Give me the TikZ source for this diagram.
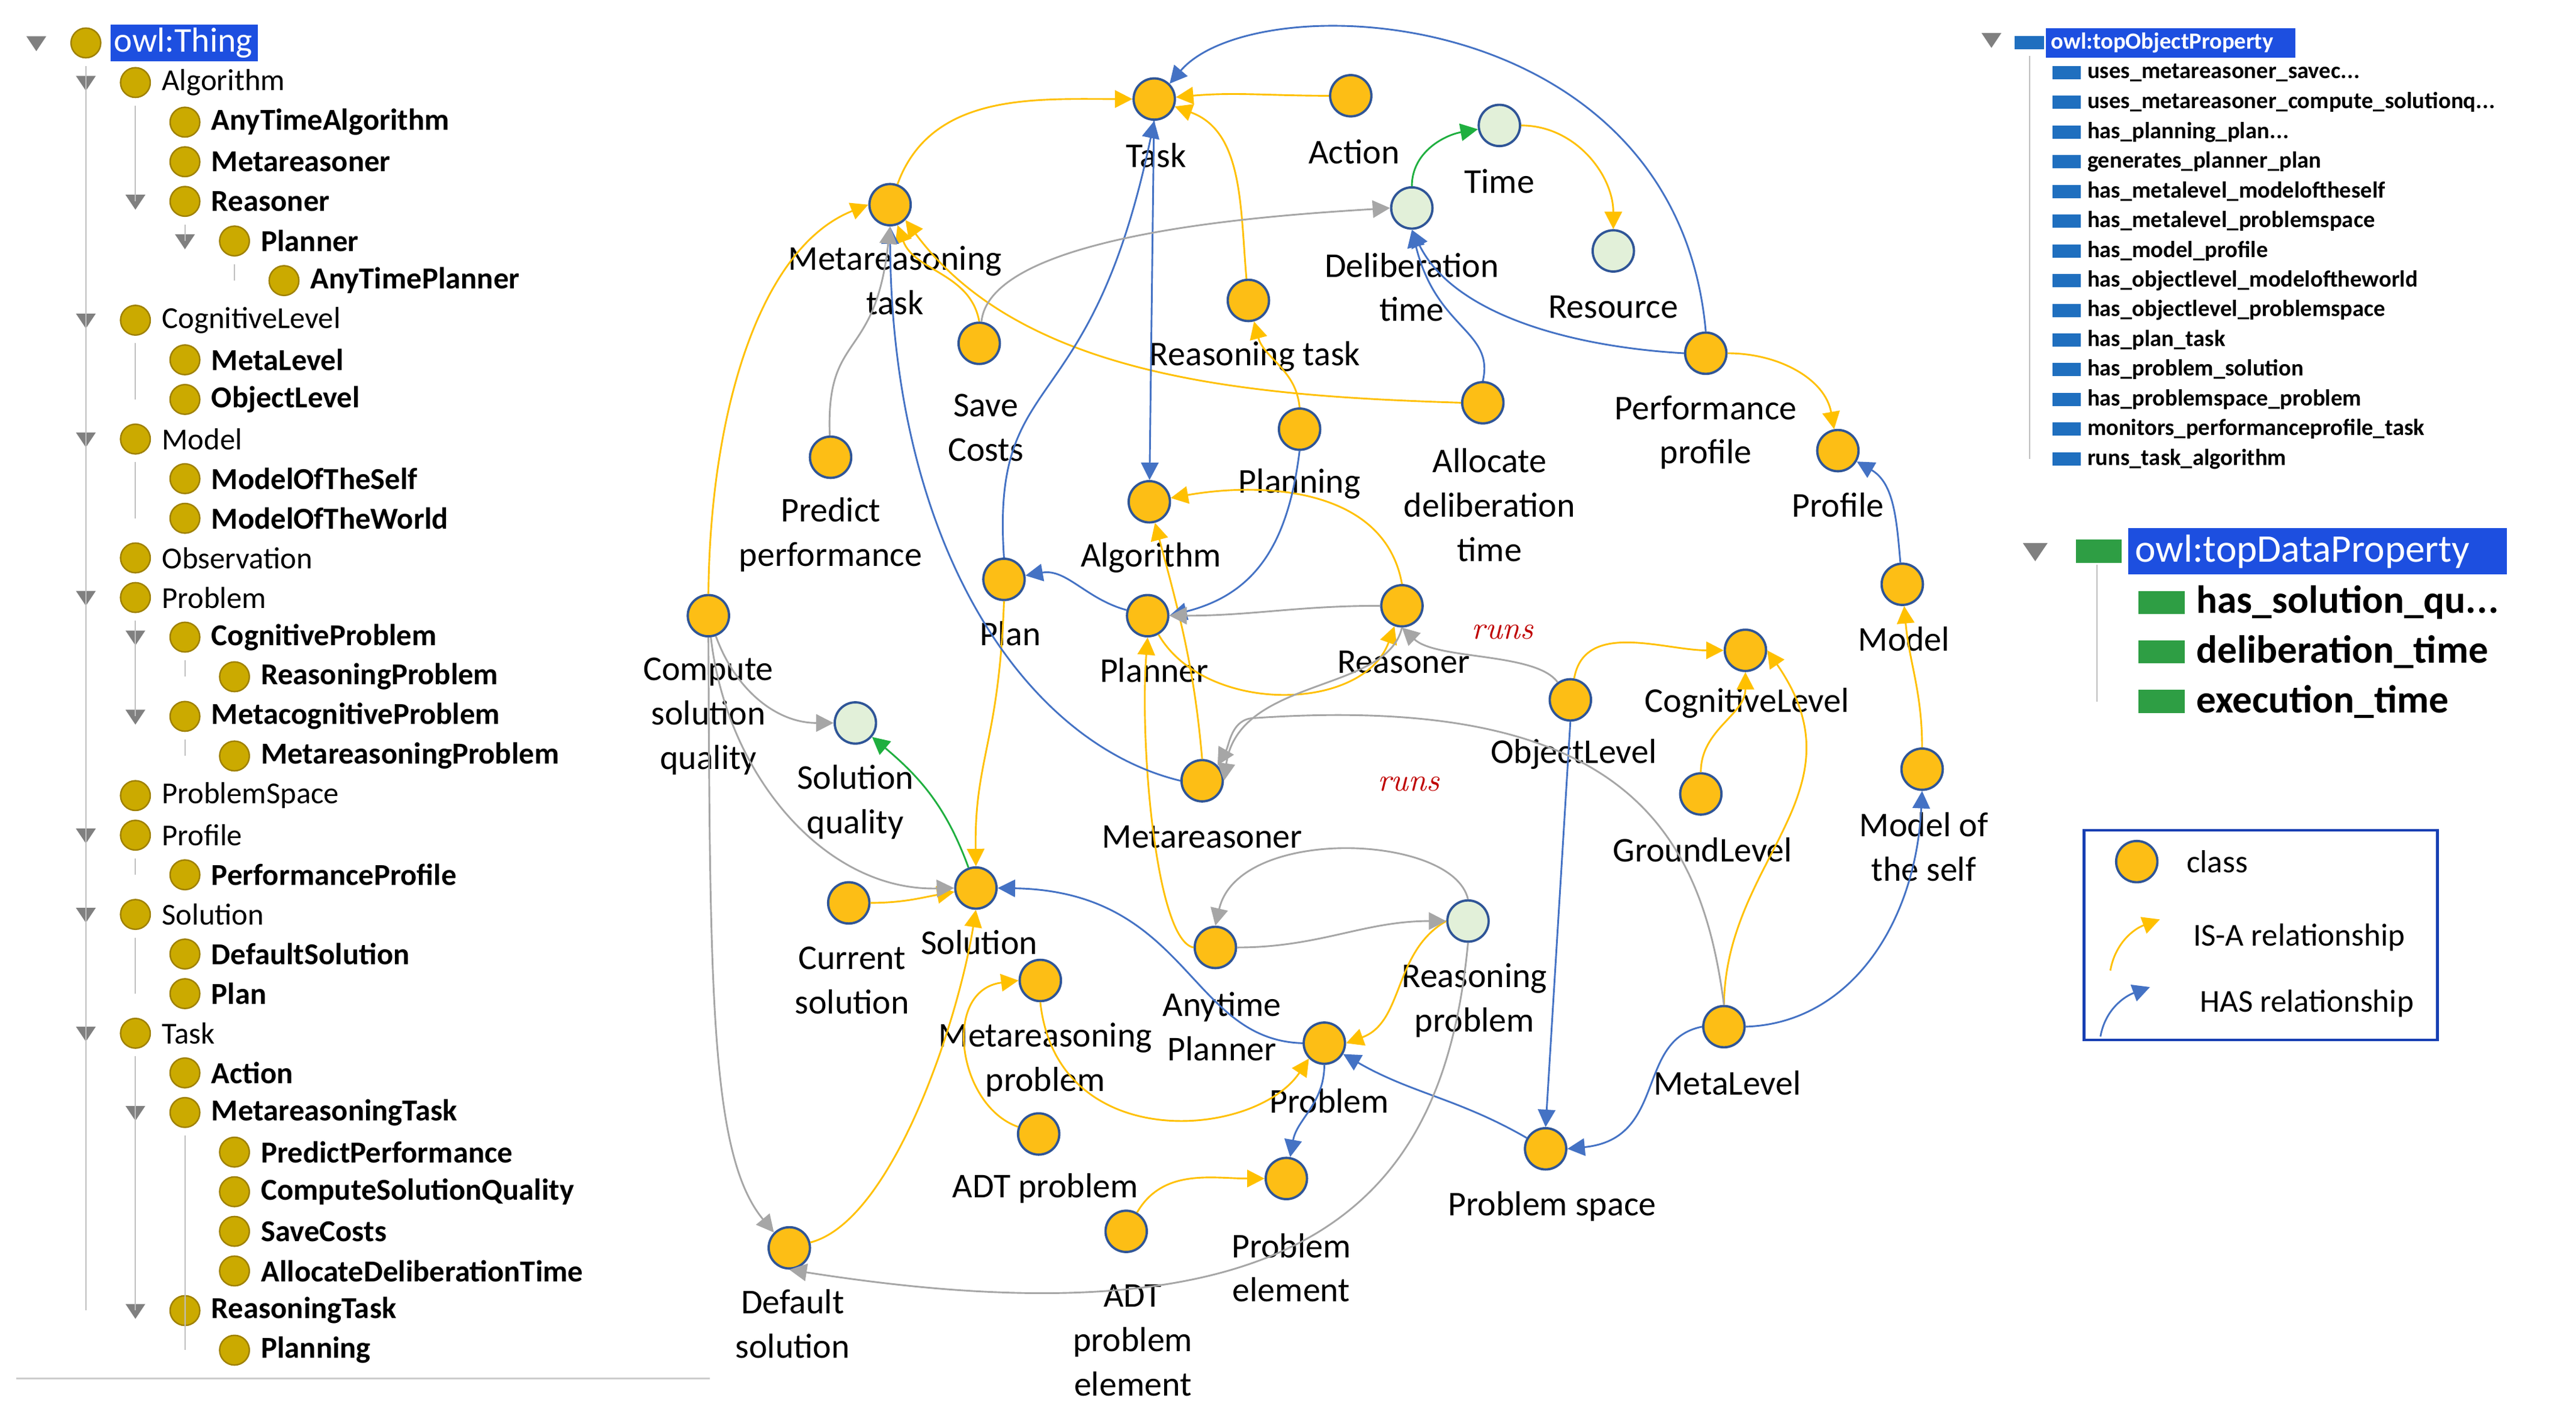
\documentclass[tikz,border=0pt]{standalone}
\usepackage{fontspec}
\setmainfont{Carlito}
\usetikzlibrary{arrows.meta}
\definecolor{cy}{HTML}{FDBE15}
\definecolor{cb}{HTML}{2F5597}
\definecolor{lb}{HTML}{4472C4}
\definecolor{lg}{HTML}{E2F0D9}
\definecolor{ay}{HTML}{FFC000}
\definecolor{ag}{HTML}{A6A6A6}
\definecolor{agr}{HTML}{1FAF3F}
\definecolor{hl}{HTML}{1D4FE0}
\definecolor{tc}{HTML}{C5A000}
\definecolor{pb}{HTML}{1F6FBF}
\definecolor{pg}{HTML}{2E9E44}
\newcommand{\dts}{.\kern0.02em.\kern0.02em.}
\begin{document}
\begin{tikzpicture}[x=0.02cm,y=-0.02cm,
 cls/.style={circle,draw=cb,line width=0.8pt,fill=cy,minimum size=0.5cm,inner sep=0},
 dat/.style={circle,draw=cb,line width=0.8pt,fill=lg,minimum size=0.5cm,inner sep=0},
 lab/.style={align=center,font=\fontsize{12}{15.3}\selectfont,inner sep=0},
 isa/.style={draw=ay,line width=0.6pt,-{Triangle[length=6pt,width=6pt]}},
 has/.style={draw=lb,line width=0.6pt,-{Triangle[length=6pt,width=6pt]}},
 gry/.style={draw=ag,line width=0.6pt,-{Triangle[length=6pt,width=6pt]}},
 grn/.style={draw=agr,line width=0.6pt,-{Triangle[length=6pt,width=6pt]}},
 tc/.style={circle,draw=tc!80!black,line width=0.5pt,fill=tc!90!yellow,minimum size=0.36cm,inner sep=0},
 tt/.style={anchor=west,font=\fontsize{10.5}{12}\selectfont,inner sep=1pt},
 runs/.style={font=\fontsize{11}{12}\itshape\rmfamily,text=red!75!black}
]
\useasboundingbox (0,0) rectangle (1560,850.6);
\newfontfamily\lm{Latin Modern Roman}
% ---------- tree ----------
\newcommand{\trow}[4]{% index, level, text, bold(1/0)
 \pgfmathsetmacro{\ty}{26+24*#1}\pgfmathsetmacro{\tx}{52+30*#2}
 \node[tc] (t#1) at (\tx,\ty) {};
 \ifnum#4=1 \node[tt] (tl#1) at (\tx+14,\ty) {\textbf{#3}};\else\node[tt] (tl#1) at (\tx+14,\ty) {#3};\fi}
\newcommand{\ttri}[1]{\pgfmathsetmacro{\ty}{26+24*#1}\pgfmathsetmacro{\tx}{52+30*\tlev-30}
 \fill[gray] (\tx-6,\ty-4) -- (\tx+6,\ty-4) -- (\tx,\ty+5) -- cycle;}
\fill[hl] (67,15) rectangle (156,37);
\node[tc] (t0) at (52,26) {};
\node[tt,text=white,font=\fontsize{12}{12}\selectfont] (tl0) at (67,26) {owl:Thing};
\foreach \i/\l/\t/\b in {1/1/Algorithm/0,2/2/AnyTimeAlgorithm/1,3/2/Metareasoner/1,4/2/Reasoner/1,5/3/Planner/1,6/4/AnyTimePlanner/1,7/1/CognitiveLevel/0,8/2/MetaLevel/1,9/2/ObjectLevel/1,10/1/Model/0,11/2/ModelOfTheSelf/1,12/2/ModelOfTheWorld/1,13/1/Observation/0,14/1/Problem/0,15/2/CognitiveProblem/1,16/3/ReasoningProblem/1,17/2/MetacognitiveProblem/1,18/3/MetareasoningProblem/1,19/1/ProblemSpace/0,20/1/Profile/0,21/2/PerformanceProfile/1,22/1/Solution/0,23/2/DefaultSolution/1,24/2/Plan/1,25/1/Task/0,26/2/Action/1,27/2/MetareasoningTask/1,28/3/PredictPerformance/1,29/3/ComputeSolutionQuality/1,30/3/SaveCosts/1,31/3/AllocateDeliberationTime/1,32/2/ReasoningTask/1,33/3/Planning/1}{\trow{\i}{\l}{\t}{\b}}
\foreach \i/\l in {0/0,1/1,4/2,5/3,7/1,10/1,14/1,15/2,17/2,20/1,22/1,25/1,27/2,32/2}{\def\tlev{\l}\ttri{\i}}
\draw[gray!50,line width=0.5pt] (52,40)--(52,794) (82,64)--(82,122) (112,136)--(112,146) (142,160)--(142,170)
 (82,208)--(82,242) (82,280)--(82,314) (82,376)--(82,434) (112,400)--(112,410) (112,448)--(112,458)
 (82,520)--(82,530) (82,568)--(82,602) (82,640)--(82,794) (112,688)--(112,818);
\draw[gray!40,line width=0.6pt] (10,835)--(430,835);
% ---------- right panel ----------
\fill[gray] (1200,20) -- (1212,20) -- (1206,29) -- cycle;
\fill[pb] (1220,22) rectangle (1238,30);
\fill[hl] (1239,17) rectangle (1390,35);
\node[anchor=west,text=white,font=\fontsize{8}{9}\selectfont\bfseries,inner sep=1pt] (otp) at (1240,26) {owl:topObjectProperty};
\foreach \i/\t in {0/uses\_metareasoner\_savec\dts,1/uses\_metareasoner\_compute\_solutionq\dts,2/has\_planning\_plan\dts,3/generates\_planner\_plan,4/has\_metalevel\_modeloftheself,5/has\_metalevel\_problemspace,6/has\_model\_profile,7/has\_objectlevel\_modeloftheworld,8/has\_objectlevel\_problemspace,9/has\_plan\_task,10/has\_problem\_solution,11/has\_problemspace\_problem,12/monitors\_performanceprofile\_task,13/runs\_task\_algorithm}{
 \fill[pb] (1243,{40+18*\i}) rectangle (1260,{48+18*\i});
 \node[anchor=west,font=\fontsize{8}{9}\selectfont\bfseries,inner sep=1pt] (op\i) at (1262,{44+18*\i}) {\t};}
\draw[gray!50,line width=0.4pt] (1229,34)--(1229,278);
\fill[gray] (1225,329) -- (1240,329) -- (1232.5,340) -- cycle;
\fill[pg] (1257,327) rectangle (1285,341);
\fill[hl] (1289,320) rectangle (1518,348);
\node[anchor=west,text=white,font=\fontsize{13.5}{14}\selectfont,inner sep=1pt] (tdp) at (1291,334) {owl:topDataProperty};
\foreach \i/\t in {0/has\_solution\_qu\dts,1/deliberation\_time,2/execution\_time}{
 \fill[pg] (1295,{358+30*\i}) rectangle (1323,{372+30*\i});
 \node[anchor=west,font=\fontsize{13.5}{14}\selectfont\bfseries,inner sep=1pt] (dp\i) at (1328,{365+30*\i}) {\t};}
\draw[gray!50,line width=0.4pt] (1270,342)--(1270,425);
% ---------- legend ----------
\draw[hl!80!black,line width=1pt] (1262,503) rectangle (1476,630);
\node[cls] (lc) at (1294,522) {};
\node[anchor=west,font=\fontsize{11}{12}\selectfont] (lct) at (1318,522) {class};
\coordinate (li1) at (1278,588); \coordinate (li2) at (1308,557);
\draw[isa] (li1) to[out=80,in=200] (li2);
\node[anchor=west,font=\fontsize{11}{12}\selectfont] (lit) at (1322,568) {IS-A relationship};
\coordinate (lh1) at (1272,628); \coordinate (lh2) at (1302,598);
\draw[has] (lh1) to[out=80,in=200] (lh2);
\node[anchor=west,font=\fontsize{11}{12}\selectfont] (lht) at (1326,608) {HAS relationship};
% ---------- graph nodes ----------
\node[cls] (task) at (699,60) {}; \node[lab] at (700,94) {Task};
\node[cls] (action) at (818,58) {}; \node[lab] at (820,92) {Action};
\node[dat] (time) at (908,76) {}; \node[lab] at (908,110) {Time};
\node[dat] (dt) at (855,126) {}; \node[lab] at (855,174) {Deliberation\\time};
\node[dat] (res) at (977,152) {}; \node[lab] at (977,186) {Resource};
\node[cls] (mt) at (539,124) {}; \node[lab] at (542,170) {Metareasoning\\task};
\node[cls] (rt) at (756,182) {}; \node[lab] at (760,216) {Reasoning task};
\node[cls] (sc) at (593,208) {}; \node[lab] at (597,259) {Save\\Costs};
\node[cls] (pp) at (1033,214) {}; \node[lab] at (1033,262) {Performance\\profile};
\node[cls] (adt) at (898,244) {}; \node[lab] at (902,306) {Allocate\\deliberation\\time};
\node[cls] (pred) at (503,277) {}; \node[lab] at (503,324) {Predict\\performance};
\node[cls] (planning) at (787,260) {}; \node[lab] at (787,293) {Planning};
\node[cls] (profile) at (1113,273) {}; \node[lab] at (1113,306) {Profile};
\node[cls] (alg) at (696,304) {}; \node[lab] at (697,338) {Algorithm};
\node[cls] (plan) at (608,351) {}; \node[lab] at (612,384) {Plan};
\node[cls] (planner) at (695,373) {}; \node[lab] at (699,406) {Planner};
\node[cls] (reas) at (849,367) {}; \node[lab] at (850,401) {Reasoner};
\node[cls] (csq) at (429,373) {}; \node[lab] at (429,434) {Compute\\solution\\quality};
\node[cls] (model) at (1152,354) {}; \node[lab] at (1153,387) {Model};
\node[cls] (cl) at (1057,394) {}; \node[lab] at (1058,426) {CognitiveLevel};
\node[cls] (ol) at (951,424) {}; \node[lab] at (953,457) {ObjectLevel};
\node[dat] (sq) at (518,438) {}; \node[lab] at (518,486) {Solution\\quality};
\node[cls] (mr) at (728,473) {}; \node[lab] at (728,507) {Metareasoner};
\node[cls] (gl) at (1030,481) {}; \node[lab] at (1031,515) {GroundLevel};
\node[cls] (mos) at (1164,466) {}; \node[lab] at (1165,513) {Model of\\the self};
\node[cls] (cs) at (514,547) {}; \node[lab] at (516,594) {Current\\solution};
\node[cls] (sol) at (591,538) {}; \node[lab] at (593,571) {Solution};
\node[dat] (rp) at (889,558) {}; \node[lab] at (893,606) {Reasoning\\problem};
\node[cls] (ap) at (736,574) {}; \node[lab] at (740,622) {Anytime\\Planner};
\node[cls] (mp) at (630,594) {}; \node[lab] at (633,642) {Metareasoning\\problem};
\node[cls] (prob) at (802,632) {}; \node[lab] at (805,667) {Problem};
\node[cls] (ml) at (1044,622) {}; \node[lab] at (1046,656) {MetaLevel};
\node[cls] (adtp) at (629,687) {}; \node[lab] at (633,720) {ADT problem};
\node[cls] (ps) at (936,696) {}; \node[lab] at (940,731) {Problem space};
\node[cls] (pe) at (779,714) {}; \node[lab] at (782,768) {Problem\\element};
\node[cls] (adtpe) at (682,746) {}; \node[lab] at (686,812) {ADT\\problem\\element};
\node[cls] (ds) at (478,756) {}; \node[lab] at (480,802) {Default\\solution};
\node[runs] (runs1) at (910,383) {\lm runs};
\node[runs] (runs2) at (853,475) {\lm runs};
% ---------- IS-A ----------
\draw[isa] (mt) to[out=70,in=180] (task);
\draw[isa] (action) to[out=180,in=5] (task);
\draw[isa] (rt) to[out=95,in=-20] (task);
\draw[isa] (sc.north) to[out=100,in=-70] (mt);
\draw[isa] (adt.west) .. controls (760,240) and (620,230) .. (mt.south east);
\draw[isa] (csq.north) .. controls (430,250) and (460,150) .. (mt.west);
\draw[isa] (planning.north) to[out=95,in=-75] (rt);
\draw[isa] (reas.north) to[out=100,in=10] (alg);
\draw[isa] (mr.north) to[out=95,in=-75] (alg);
\draw[isa] (planner) to[out=-60,in=-110] (reas);
\draw[isa] (ap.west) .. controls (700,570) and (690,450) .. (planner.south);
\draw[isa] (plan.south) .. controls (605,450) and (590,460) .. (sol.north);
\draw[isa] (cs) to[out=0,in=190] (sol);
\draw[isa] (ds) .. controls (540,740) and (580,620) .. (sol.south);
\draw[isa] (mp.south) .. controls (640,700) and (760,690) .. (prob.south west);
\draw[isa] (adtp) .. controls (580,670) and (570,600) .. (mp.west);
\draw[isa] (rp.west) to[out=-150,in=20] (prob.east);
\draw[isa] (adtpe) to[out=60,in=180] (pe);
\draw[isa] (time) to[out=0,in=90] (res);
\draw[isa] (pp) to[out=0,in=100] (profile);
\draw[isa] (mos) to[out=90,in=-85] (model);
\draw[isa] (ol) to[out=80,in=180] (cl);
\draw[isa] (gl) to[out=90,in=-90] (cl);
\draw[isa] (ml.north) .. controls (1045,520) and (1130,480) .. (cl.east);
% ---------- HAS ----------
\draw[has] (pp.north) .. controls (1015,0) and (760,-10) .. (task.north east);
\draw[has] (task) -- (alg);
\draw[has] (plan.north) .. controls (600,220) and (660,260) .. (task.south);
\draw[has] (mr.west) .. controls (620,450) and (540,330) .. (mt.south);
\draw[has] (planning.south) .. controls (780,330) and (760,360) .. (planner.east);
\draw[has] (planner) to[out=165,in=10] (plan);
\draw[has] (pp.west) .. controls (950,210) and (880,190) .. (dt.south);
\draw[has] (adt.north) .. controls (905,200) and (870,200) .. (dt.south);
\draw[has] (prob.west) .. controls (720,630) and (720,540) .. (sol.east);
\draw[has] (prob.south) to[out=-90,in=80] (pe);
\draw[has] (ps) to[out=150,in=-30] (prob);
\draw[has] (ol.south) -- (ps.north);
\draw[has] (ml.west) .. controls (990,630) and (1010,690) .. (ps.east);
\draw[has] (ml.east) .. controls (1120,620) and (1160,560) .. (mos.south);
\draw[has] (model) to[out=95,in=-30] (profile);
% ---------- gray ----------
\draw[gry] (pred) .. controls (500,200) and (530,220) .. (mt.south);
\draw[gry] (sc) .. controls (600,140) and (780,130) .. (dt.west);
\draw[gry] (reas) to[out=180,in=0] (planner);
\draw[gry] (ol) .. controls (930,395) and (870,400) .. (reas.south);
\draw[gry] (reas.south) .. controls (840,420) and (750,410) .. (mr.east);
\draw[gry] (ml.north) .. controls (1030,500) and (980,420) .. (760,435) to[out=180,in=60] (mr.north east);
\draw[gry] (rp.north) .. controls (880,505) and (750,500) .. (ap.north);
\draw[gry] (ap) to[out=0,in=180] (rp);
\draw[gry] (csq) to[out=-70,in=180] (sq);
\draw[gry] (csq) .. controls (440,470) and (500,540) .. (sol.west);
\draw[gry] (csq.south) .. controls (430,600) and (430,700) .. (ds.north west);
\draw[gry] (rp.south) .. controls (875,720) and (800,820) .. (ds.south);
% ---------- green ----------
\draw[grn] (dt) to[out=90,in=190] (time);
\draw[grn] (sol) to[out=110,in=-40] (sq);
\end{tikzpicture}
\end{document}
